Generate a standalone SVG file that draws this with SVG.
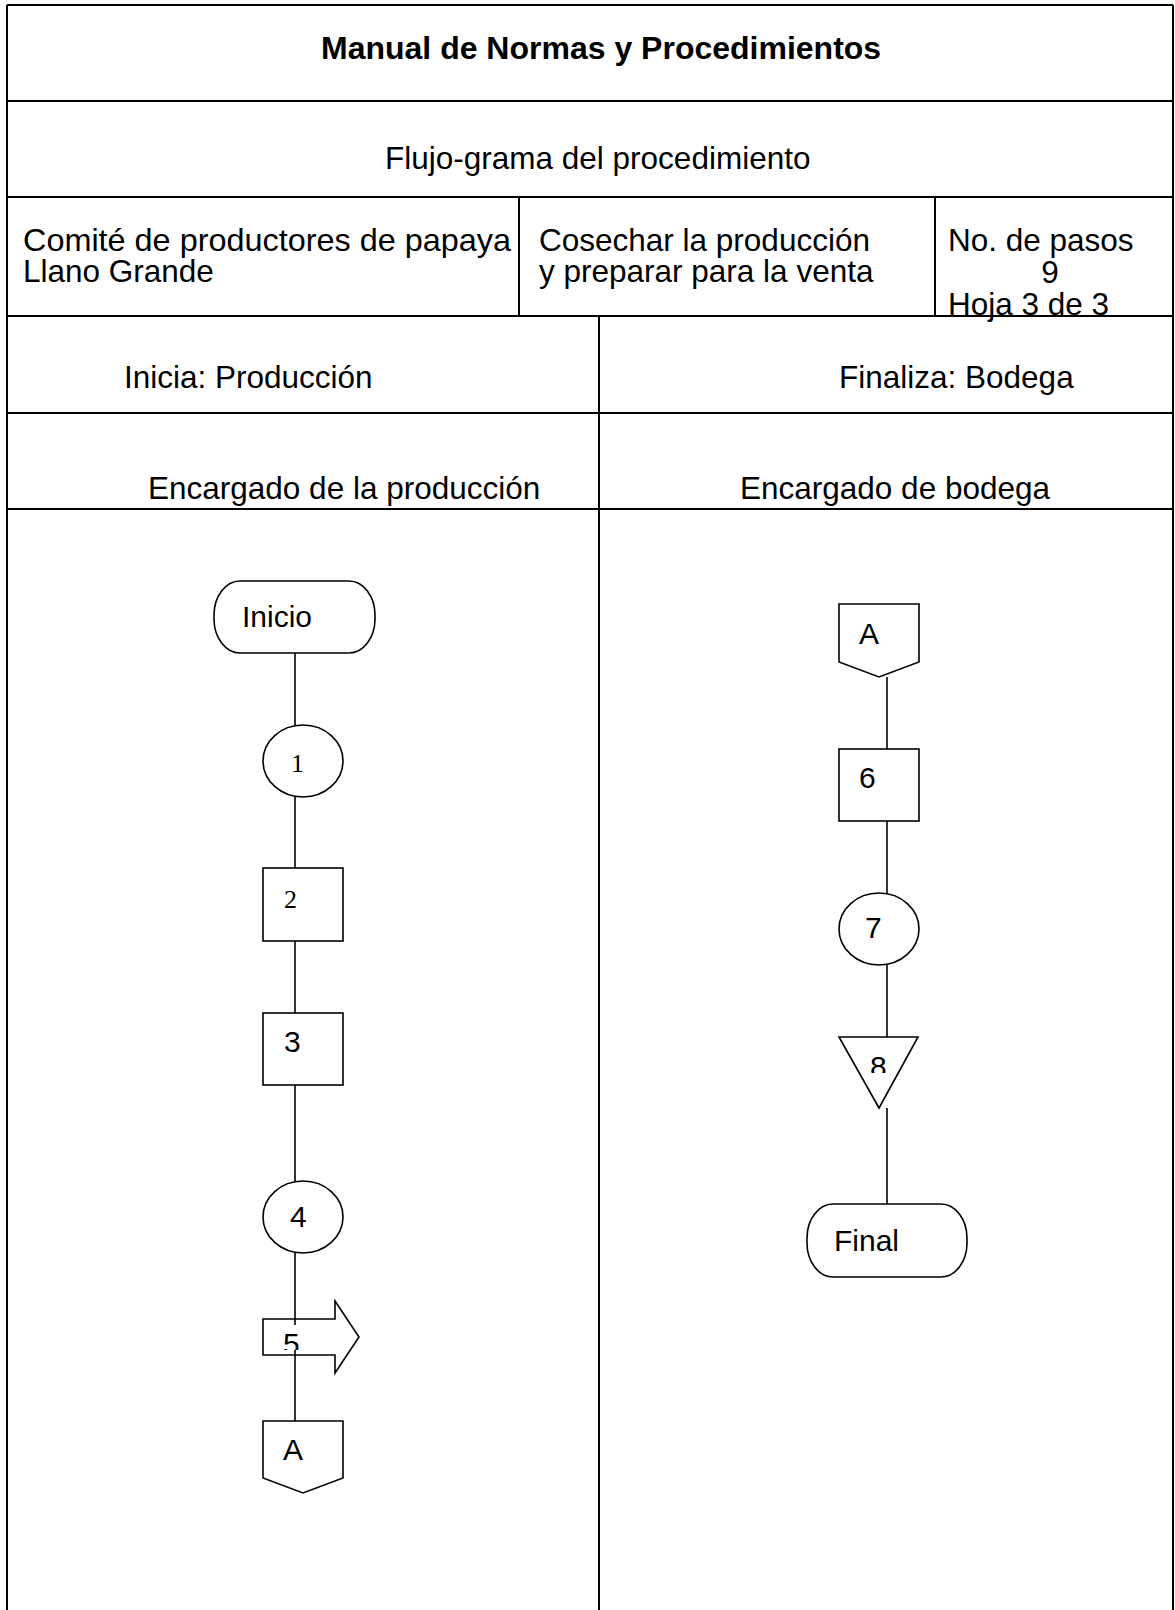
<svg xmlns="http://www.w3.org/2000/svg" width="1175" height="1610" viewBox="0 0 1175 1610">
<style>
.grid{stroke:#000;stroke-width:2;fill:none}
.shape{stroke:#000;stroke-width:1.6;fill:#fff}
.conn{stroke:#000;stroke-width:1.6;fill:none}
.h{font-family:"Liberation Sans",Arial,sans-serif;font-size:31.5px;fill:#000}
.t{font-family:"Liberation Sans",Arial,sans-serif;font-size:32px;font-weight:bold;fill:#000}
.f{font-family:"Liberation Sans",Arial,sans-serif;font-size:30px;fill:#000}
.s{font-family:"Liberation Serif","Times New Roman",serif;font-size:26px;fill:#000}
</style>
<defs>
<clipPath id="clip8"><rect x="860" y="1040" width="40" height="33"/></clipPath>
<clipPath id="clip5"><rect x="278" y="1325" width="30" height="25"/></clipPath>
</defs>
<rect width="1175" height="1610" fill="#fff"/>
<g id="table">
<line class="grid" x1="7" y1="5" x2="1173" y2="5"/>
<line class="grid" x1="7" y1="5" x2="7" y2="1610"/>
<line class="grid" x1="1173" y1="5" x2="1173" y2="1610"/>
<line class="grid" x1="7" y1="101" x2="1173" y2="101"/>
<line class="grid" x1="7" y1="197" x2="1173" y2="197"/>
<line class="grid" x1="7" y1="316" x2="1173" y2="316"/>
<line class="grid" x1="7" y1="413" x2="1173" y2="413"/>
<line class="grid" x1="7" y1="509" x2="1173" y2="509"/>
<line class="grid" x1="519" y1="197" x2="519" y2="316"/>
<line class="grid" x1="935" y1="197" x2="935" y2="316"/>
<line class="grid" x1="599" y1="316" x2="599" y2="1610"/>
<text class="t" x="321" y="59">Manual de Normas y Procedimientos</text>
<text class="h" x="385" y="169">Flujo-grama del procedimiento</text>
<text class="h" x="23" y="251" textLength="488" lengthAdjust="spacingAndGlyphs">Comité de productores de papaya</text>
<text class="h" x="23" y="282">Llano Grande</text>
<text class="h" x="539" y="251">Cosechar la producción</text>
<text class="h" x="539" y="282">y preparar para la venta</text>
<text class="h" x="948" y="251">No. de pasos</text>
<text class="h" x="1050" y="283" text-anchor="middle">9</text>
<text class="h" x="948" y="315">Hoja 3 de 3</text>
<text class="h" x="124" y="388">Inicia: Producción</text>
<text class="h" x="839" y="388">Finaliza: Bodega</text>
<text class="h" x="148" y="499">Encargado de la producción</text>
<text class="h" x="740" y="499">Encargado de bodega</text>
</g>
<g id="connectors">
<line class="conn" x1="295" y1="653" x2="295" y2="725"/>
<line class="conn" x1="295" y1="797" x2="295" y2="868"/>
<line class="conn" x1="295" y1="941" x2="295" y2="1013"/>
<line class="conn" x1="295" y1="1085" x2="295" y2="1181"/>
<line class="conn" x1="295" y1="1253" x2="295" y2="1325"/>
<line class="conn" x1="295" y1="1350" x2="295" y2="1421"/>
<line class="conn" x1="887" y1="677" x2="887" y2="749"/>
<line class="conn" x1="887" y1="821" x2="887" y2="893"/>
<line class="conn" x1="887" y1="965" x2="887" y2="1037"/>
<line class="conn" x1="887" y1="1108" x2="887" y2="1204"/>
</g>
<g id="inicio">
<rect class="shape" x="214" y="581" width="161" height="72" rx="26" ry="34"/>
<text class="f" x="242" y="627">Inicio</text>
</g>
<g id="step1">
<ellipse class="shape" cx="303" cy="761" rx="40" ry="36"/>
<text class="s" x="291" y="772">1</text>
</g>
<g id="step2">
<rect class="shape" x="263" y="868" width="80" height="73"/>
<text class="s" x="284" y="908">2</text>
</g>
<g id="step3">
<rect class="shape" x="263" y="1013" width="80" height="72"/>
<text class="f" x="284" y="1052">3</text>
</g>
<g id="step4">
<ellipse class="shape" cx="303" cy="1217" rx="40" ry="36"/>
<text class="f" x="290" y="1227">4</text>
</g>
<g id="step5">
<polygon class="shape" style="fill:none" points="263,1319 335,1319 335,1301 359,1337 335,1373 335,1355 263,1355"/>
<text class="f" x="283" y="1354" clip-path="url(#clip5)">5</text>
</g>
<g id="connA-left">
<polygon class="shape" points="263,1421 343,1421 343,1478 303,1493 263,1478"/>
<text class="f" x="283" y="1460">A</text>
</g>
<g id="connA-right">
<polygon class="shape" points="839,604 919,604 919,662 879,677 839,662"/>
<text class="f" x="859" y="644">A</text>
</g>
<g id="step6">
<rect class="shape" x="839" y="749" width="80" height="72"/>
<text class="f" x="859" y="788">6</text>
</g>
<g id="step7">
<ellipse class="shape" cx="879" cy="929" rx="40" ry="36"/>
<text class="f" x="865" y="938">7</text>
</g>
<g id="step8">
<polygon class="shape" points="839,1037 918,1037 879,1108"/>
<text class="f" x="870" y="1077" clip-path="url(#clip8)">8</text>
</g>
<g id="final">
<rect class="shape" x="807" y="1204" width="160" height="73" rx="26" ry="34"/>
<text class="f" x="834" y="1251">Final</text>
</g>
</svg>
